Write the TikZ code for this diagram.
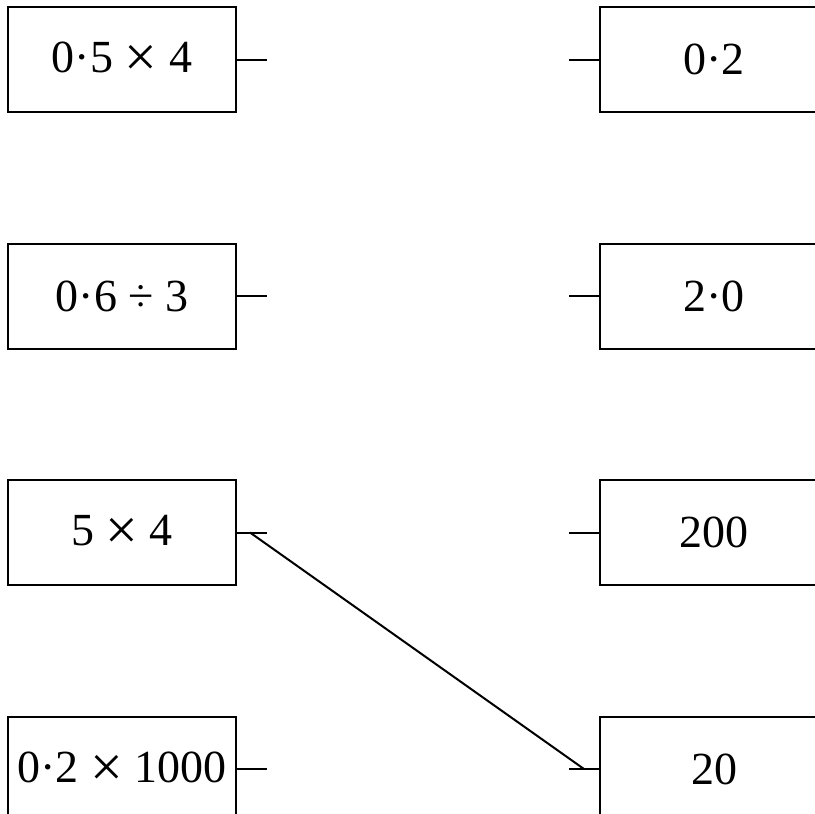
\documentclass[tikz,border=0pt]{standalone}
\usepackage{fontspec}
\setmainfont{Liberation Serif}
\usetikzlibrary{positioning}
\newcommand\tms{\raisebox{-1.8pt}{\fontsize{29}{29}\selectfont ×}}
\begin{document}
\begin{tikzpicture}[x=0.5pt,y=-0.5pt,
  card/.style={draw,line width=1pt,minimum width=114pt,minimum height=52.5pt,inner sep=0pt,font=\fontsize{23}{28}\selectfont},
  stub/.style={line width=1pt},
  node distance=64.75pt and 181pt]
\useasboundingbox (0,0) rectangle (815,814);
% left column
\node[card] (q1) at (122,59.5) {0·5 \tms{} 4};
\node[card,below=of q1] (q2) {0·6 ÷ 3};
\node[card,below=of q2] (q3) {5 \tms{} 4};
\node[card,below=of q3] (q4) {0·2 \tms{} 1000};
% right column
\node[card,right=of q1] (a1) {0·2};
\node[card,right=of q2] (a2) {2·0};
\node[card,right=of q3] (a3) {200};
\node[card,right=of q4] (a4) {20};
\foreach \i in {1,...,4} {
  \draw[stub] (q\i.east) -- ++(30,0);
  \draw[stub] (a\i.west) -- ++(-30,0);
}
\draw[stub] ([xshift=6.5pt]q3.east) -- ([xshift=-7.5pt]a4.west);
\end{tikzpicture}
\end{document}
